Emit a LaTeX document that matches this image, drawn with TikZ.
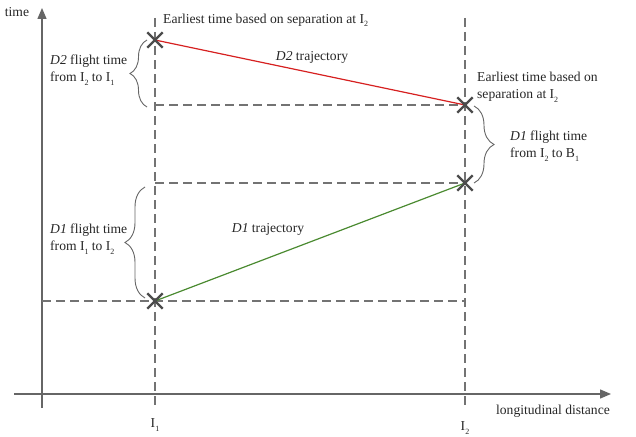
\documentclass[tikz,border=0pt]{standalone}
\usepackage{fontspec}
\setmainfont{Liberation Serif}
\usetikzlibrary{arrows.meta,decorations.pathreplacing,shapes.misc}
\newcommand\sbs[1]{\raisebox{-0.5ex}{\fontsize{8}{8}\selectfont #1}}
\begin{document}
\begin{tikzpicture}[x=1pt,y=-1pt,
  every node/.style={font=\fontsize{13.6}{17.5}\selectfont, text=black!85, inner sep=0pt},
  axis/.style={draw=black!60, line width=1.4pt, -{Triangle[length=11pt,width=9pt]}},
  guide/.style={draw=black!55, line width=1.4pt, dash pattern=on 9pt off 5pt},
  xmark/.style={cross out, draw=black!70, line width=2.4pt, minimum size=13pt, inner sep=0pt},
  bracestyle/.style={draw=black!60, line width=0.9pt, decorate, decoration={brace, amplitude=17pt, aspect=0.5}},
  lbl/.style={align=left, anchor=west}]
\useasboundingbox (0,0) rectangle (636,436);

% axes
\coordinate (yb) at (42,408);
\coordinate (yt) at (42,8);
\coordinate (xl) at (14,394);
\coordinate (xr) at (611,394);
\draw[axis] (yb) -- (yt);
\draw[axis] (xl) -- (xr);

% vertical guides
\coordinate (g1t) at (155,18);
\coordinate (g1b) at (155,408);
\coordinate (g2t) at (465,18);
\coordinate (g2b) at (465,408);
\draw[guide] (g1t) -- (g1b);
\draw[guide] (g2t) -- (g2b);

% points
\coordinate (A) at (155,40);
\coordinate (B) at (465,105);
\coordinate (C) at (465,183);
\coordinate (D) at (155,301);

% horizontal guides
\coordinate (hB) at (155,105);
\coordinate (hC) at (155,183);
\coordinate (hD) at (42,301);
\draw[guide] (hB) -- (B);
\draw[guide] (hC) -- (C);
\draw[guide] (hD) -- (465,301);

% trajectories
\draw[draw={rgb,255:red,214;green,32;blue,32}, line width=1.2pt] (A) -- (B);
\draw[draw={rgb,255:red,74;green,138;blue,48}, line width=1.2pt] (D) -- (C);

% cross marks
\node[xmark] (mA) at (A) {};
\node[xmark] (mB) at (B) {};
\node[xmark] (mC) at (C) {};
\node[xmark] (mD) at (D) {};

% braces
\draw[bracestyle] (147,107) -- (147,40);
\draw[bracestyle, decoration={brace, amplitude=20pt, aspect=0.5}] (145,298) -- (145,187);
\draw[bracestyle, decoration={brace, amplitude=20pt, aspect=0.5}] (474,106) -- (474,183);

% labels
\node (time) at (17,12) {time};
\node (ldist) at (553,411) {longitudinal distance};
\node (i1) at (155,425) {I\sbs{1}};
\node (i2) at (465,428) {I\sbs{2}};
\node[lbl] (e1) at (163,20) {Earliest time based on separation at I\sbs{2}};
\node (d2t) at (312,57) {\textit{D2} trajectory};
\node (d1t) at (268,229) {\textit{D1} trajectory};
\node[lbl] (d2f) at (50,70) {\textit{D2} flight time\\from I\sbs{2} to I\sbs{1}};
\node[lbl] (d1f) at (50,239) {\textit{D1} flight time\\from I\sbs{1} to I\sbs{2}};
\node[lbl] (e2) at (477,87) {Earliest time based on\\separation at I\sbs{2}};
\node[lbl] (d1b) at (510,146) {\textit{D1} flight time\\from I\sbs{2} to B\sbs{1}};
\end{tikzpicture}
\end{document}
